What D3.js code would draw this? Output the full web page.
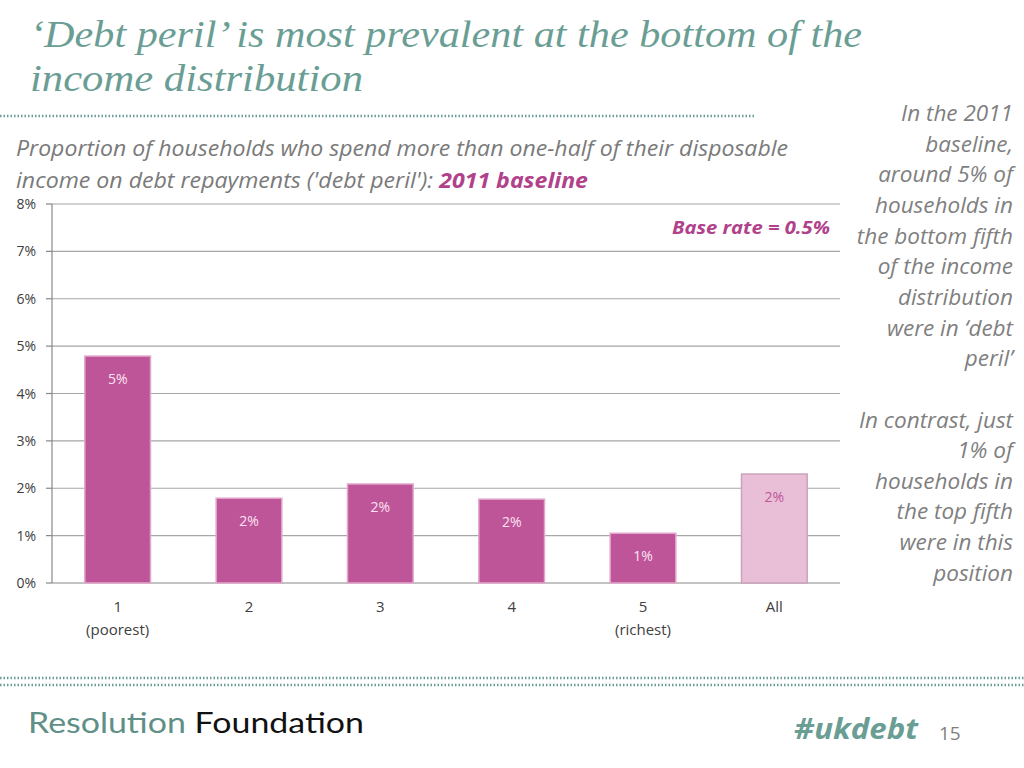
<!DOCTYPE html>
<html><head><meta charset="utf-8">
<script src="https://cdn.jsdelivr.net/npm/d3@7"></script>
<style>body{margin:0;background:#fff}svg{display:block}</style>
</head><body>
<svg id="c" width="1024" height="768"></svg>
<script>
const categories = ["1","2","3","4","5","All"];
const subLabels = ["(poorest)","","","","(richest)",""];
const values = [4.79, 1.79, 2.09, 1.77, 1.05, 2.30];
const valueLabels = ["5%","2%","2%","2%","1%","2%"];
const yTicks = [0,1,2,3,4,5,6,7,8];
const noteLines = ["In the 2011","baseline,","around 5% of","households in","the bottom fifth","of the income","distribution","were in \u2018debt","peril\u2019","","In contrast, just","1% of","households in","the top fifth","were in this","position"];

const svg = d3.select("#c");
const teal = "#6a9e94";

// Title
svg.append("text").attr("x",30).attr("y",47)
  .attr("font-family","Liberation Serif, DejaVu Serif, serif").attr("font-style","italic")
  .attr("font-size",38).attr("fill",teal)
  .attr("textLength",832).attr("lengthAdjust","spacingAndGlyphs")
  .text("\u2018Debt peril\u2019 is most prevalent at the bottom of the");
svg.append("text").attr("x",30).attr("y",91)
  .attr("font-family","Liberation Serif, DejaVu Serif, serif").attr("font-style","italic")
  .attr("font-size",38).attr("fill",teal)
  .attr("textLength",333).attr("lengthAdjust","spacingAndGlyphs")
  .text("income distribution");

// dotted separators
svg.append("line").attr("x1",0).attr("x2",756).attr("y1",116).attr("y2",116)
  .attr("stroke",teal).attr("stroke-width",2.5).attr("stroke-dasharray","1.5,2");
[678,685].forEach(y=>svg.append("line").attr("x1",0).attr("x2",1024).attr("y1",y).attr("y2",y)
  .attr("stroke",teal).attr("stroke-width",2.5).attr("stroke-dasharray","1.5,2"));

// Subtitle
svg.append("text").attr("x",16).attr("y",156)
  .attr("font-family","Open Sans, sans-serif").attr("font-style","italic")
  .attr("font-size",21).attr("fill","#7a7a7a")
  .attr("textLength",772).attr("lengthAdjust","spacingAndGlyphs")
  .text("Proportion of households who spend more than one-half of their disposable");
const st2 = svg.append("text").attr("x",16).attr("y",188)
  .attr("font-family","Open Sans, sans-serif").attr("font-style","italic")
  .attr("font-size",21).attr("fill","#7a7a7a")
  .attr("textLength",572).attr("lengthAdjust","spacingAndGlyphs");
st2.append("tspan").text("income on debt repayments ('debt peril'): ");
st2.append("tspan").attr("font-weight","bold").attr("fill","#b0418a").text("2011 baseline");

// Chart
const x0 = 52, x1 = 840, yTop = 204, yBot = 583;
const x = d3.scaleBand().domain(categories).range([x0,x1]).paddingInner(0.5).paddingOuter(0.25);
const y = d3.scaleLinear().domain([0,8]).range([yBot,yTop]);

const g = svg.append("g");
g.selectAll("line.grid").data(yTicks).join("line")
  .attr("x1",x0).attr("x2",x1).attr("y1",d=>y(d)).attr("y2",d=>y(d))
  .attr("stroke",d=>d===0?"#888":"#a6a6a6").attr("stroke-width",1.2);
g.append("line").attr("x1",x0).attr("x2",x0).attr("y1",yTop).attr("y2",yBot)
  .attr("stroke","#888").attr("stroke-width",1.2);
g.selectAll("line.tick").data(yTicks).join("line")
  .attr("x1",x0-6).attr("x2",x0).attr("y1",d=>y(d)).attr("y2",d=>y(d))
  .attr("stroke","#888").attr("stroke-width",1.2);
g.selectAll("text.yt").data(yTicks).join("text")
  .attr("x",36).attr("y",d=>y(d)+5).attr("text-anchor","end")
  .attr("font-family","Open Sans, sans-serif").attr("font-size",14).attr("fill","#404040")
  .text(d=>d+"%");

g.selectAll("rect.bar").data(values).join("rect")
  .attr("x",(d,i)=>x(categories[i])).attr("width",x.bandwidth())
  .attr("y",d=>y(d)).attr("height",d=>yBot-y(d))
  .attr("fill",(d,i)=>i===5?"#e8bfd7":"#bf5599")
  .attr("stroke",(d,i)=>i===5?"#c9a3bb":"#e2a6cb").attr("stroke-width",1.5);

g.selectAll("text.vl").data(values).join("text")
  .attr("x",(d,i)=>x(categories[i])+x.bandwidth()/2).attr("y",d=>y(d)+28)
  .attr("text-anchor","middle").attr("font-family","Open Sans, sans-serif").attr("font-size",14)
  .attr("fill",(d,i)=>i===5?"#c0559a":"#fbe3f1")
  .text((d,i)=>valueLabels[i]);

g.selectAll("text.xl").data(categories).join("text")
  .attr("x",d=>x(d)+x.bandwidth()/2).attr("y",612).attr("text-anchor","middle")
  .attr("font-family","Open Sans, sans-serif").attr("font-size",15).attr("fill","#404040")
  .text(d=>d);
g.selectAll("text.xs").data(subLabels).join("text")
  .attr("x",(d,i)=>x(categories[i])+x.bandwidth()/2).attr("y",635).attr("text-anchor","middle")
  .attr("font-family","Open Sans, sans-serif").attr("font-size",15).attr("fill","#404040")
  .text(d=>d);

svg.append("text").attr("x",830).attr("y",234).attr("text-anchor","end")
  .attr("font-family","Open Sans, sans-serif").attr("font-style","italic").attr("font-weight","bold")
  .attr("font-size",18).attr("fill","#b0418a")
  .attr("textLength",158).attr("lengthAdjust","spacingAndGlyphs")
  .text("Base rate = 0.5%");

// Note
svg.selectAll("text.note").data(noteLines).join("text")
  .attr("x",1013).attr("y",(d,i)=>121+i*30.65).attr("text-anchor","end")
  .attr("font-family","Open Sans, sans-serif").attr("font-style","italic")
  .attr("font-size",22.5).attr("fill","#7f7f7f")
  .text(d=>d);

// Footer
const ft = svg.append("text").attr("x",28).attr("y",733)
  .attr("font-family","Lato, sans-serif").attr("font-size",29)
  .attr("textLength",336).attr("lengthAdjust","spacingAndGlyphs");
ft.append("tspan").attr("fill","#5f8f86").text("Resolution ");
ft.append("tspan").attr("fill","#111").text("Foundation");
svg.append("text").attr("x",794).attr("y",739)
  .attr("font-family","Open Sans, sans-serif").attr("font-style","italic").attr("font-weight","bold")
  .attr("font-size",29).attr("fill",teal)
  .attr("textLength",124).attr("lengthAdjust","spacingAndGlyphs").text("#ukdebt");
svg.append("text").attr("x",939).attr("y",740)
  .attr("font-family","Open Sans, sans-serif").attr("font-size",19).attr("fill","#7f7f7f").text("15");
</script>
</body></html>
